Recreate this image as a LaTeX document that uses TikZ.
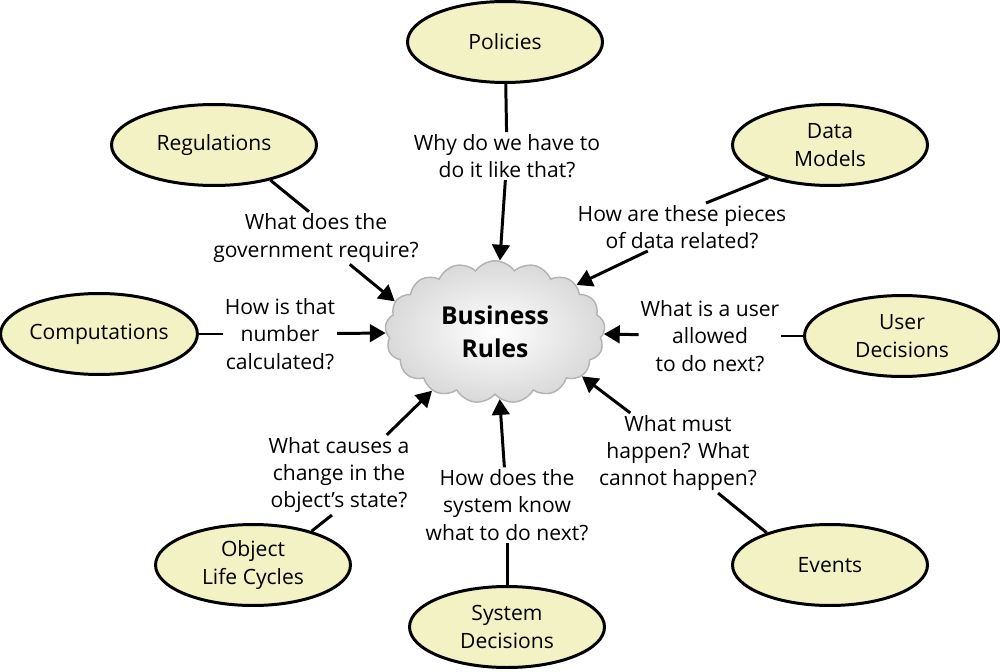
\documentclass[tikz,border=0pt]{standalone}
\usepackage{fontspec}
\setmainfont{Open Sans}
\usetikzlibrary{arrows.meta, shapes.geometric, shapes.symbols}
\definecolor{topicfill}{RGB}{242,242,196}
\tikzset{
    bareT/.style={draw, ellipse, line width=1.7pt, fill=topicfill, align=center,
        inner sep=0pt, minimum width=3.9cm, minimum height=1.62cm},
    bareQ/.style={align=center, inner sep=1pt},
    bareL/.style={line width=1.7pt},
    bareA/.style={line width=1.7pt, -{Triangle[length=9pt, width=10pt]}}
}
\begin{document}
\begin{tikzpicture}[x=0.02cm, y=-0.02cm, font=\fontsize{12}{15.6}\selectfont]
    \useasboundingbox (0,0) rectangle (1000,672);
    % cloud in the middle
    \node[cloud, cloud puffs=17, cloud puff arc=110, aspect=1.55, minimum width=4.4cm,
        minimum height=2.85cm, draw=gray!60, line width=0.8pt, inner color=white,
        outer color=gray!30, align=center,
        font=\fontsize{14}{19}\selectfont\bfseries] (c0) at (495,332) {Business\\Rules};
    % topics
    \node[bareT] (t1) at (505,42) {Policies};
    \node[bareT, minimum width=4.1cm] (t2) at (214,145) {Regulations};
    \node[bareT] (t3) at (830,145) {Data\\Models};
    \node[bareT] (t4) at (99,334) {Computations};
    \node[bareT] (t5) at (902,336) {User\\Decisions};
    \node[bareT] (t6) at (253,565) {Object\\Life Cycles};
    \node[bareT] (t7) at (507,627) {System\\Decisions};
    \node[bareT] (t8) at (830,565) {Events};
    % questions
    \node[bareQ] (q1) at (507,156) {Why do we have to\\do it like that?};
    \node[bareQ] (q2) at (316,238) {What does the\\government require?};
    \node[bareQ] (q3) at (682,227) {How are these pieces\\of data related?};
    \node[bareQ] (q4) at (280,334) {How is that\\number\\calculated?};
    \node[bareQ] (q5) at (710,336) {What is a user\\allowed\\to do next?};
    \node[bareQ] (q6) at (339,475) {What causes a\\change in the\\object’s state?};
    \node[bareQ] (q7) at (507,505) {How does the\\system know\\what to do next?};
    \node[bareQ] (q8) at (678,453) {What must\\happen? What\\cannot happen?};
    % topic to question
    \draw[bareL] (t1) -- (q1);
    \draw[bareL] (t2.-32) -- (q2.105);
    \draw[bareL] (t3.208) -- (q3.45);
    \draw[bareL] (t4) -- (q4);
    \draw[bareL] (t5) -- (q5);
    \draw[bareL] (t6.30) -- (q6.-100);
    \draw[bareL] (t7) -- (q7);
    \draw[bareL] (t8.153) -- (q8.-45);
    % question to cloud
    \draw[bareA] (q1) -- (c0);
    \draw[bareA] (q2.-38) -- (c0.163);
    \draw[bareA] (q3.-145) -- (c0.30);
    \draw[bareA] (q4) -- (c0);
    \draw[bareA] (q5) -- (c0);
    \draw[bareA] (q6.40) -- (c0.223);
    \draw[bareA] (q7) -- (c0);
    \draw[bareA] (q8.140) -- (c0.-27);
\end{tikzpicture}
\end{document}
